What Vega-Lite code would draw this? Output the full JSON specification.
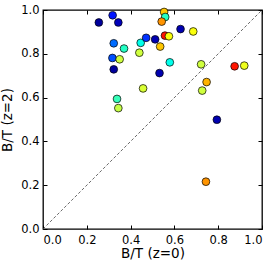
{
  "$schema": "https://vega.github.io/schema/vega-lite/v6.json",
  "width": 219,
  "height": 219,
  "autosize": "none",
  "padding": {"left": 43, "top": 10, "right": 11, "bottom": 44},
  "background": "white",
  "config": {
    "view": {"stroke": "black", "strokeWidth": 1.3},
    "axis": {
      "labelFont": "DejaVu Sans",
      "titleFont": "DejaVu Sans",
      "labelFontSize": 11.5,
      "titleFontSize": 13.5,
      "titleFontWeight": "normal",
      "labelColor": "black",
      "titleColor": "black",
      "tickColor": "black",
      "domain": false,
      "grid": false,
      "tickSize": -4,
      "tickWidth": 1
    }
  },
  "datasets": {
    "pts": [
      {"bt0": 0.255, "bt2": 0.943, "c": 0.03},
      {"bt0": 0.318, "bt2": 0.976, "c": 0.13},
      {"bt0": 0.344, "bt2": 0.943, "c": 0.06},
      {"bt0": 0.323, "bt2": 0.848, "c": 0.22},
      {"bt0": 0.370, "bt2": 0.824, "c": 0.44},
      {"bt0": 0.317, "bt2": 0.781, "c": 0.18},
      {"bt0": 0.350, "bt2": 0.775, "c": 0.58},
      {"bt0": 0.323, "bt2": 0.729, "c": 0.03},
      {"bt0": 0.446, "bt2": 0.850, "c": 0.40},
      {"bt0": 0.471, "bt2": 0.873, "c": 0.15},
      {"bt0": 0.512, "bt2": 0.866, "c": 0.05},
      {"bt0": 0.440, "bt2": 0.805, "c": 0.58},
      {"bt0": 0.457, "bt2": 0.642, "c": 0.59},
      {"bt0": 0.338, "bt2": 0.594, "c": 0.45},
      {"bt0": 0.344, "bt2": 0.552, "c": 0.57},
      {"bt0": 0.553, "bt2": 0.991, "c": 0.68},
      {"bt0": 0.558, "bt2": 0.968, "c": 0.44},
      {"bt0": 0.542, "bt2": 0.947, "c": 0.73},
      {"bt0": 0.557, "bt2": 0.883, "c": 0.87},
      {"bt0": 0.575, "bt2": 0.880, "c": 0.62},
      {"bt0": 0.628, "bt2": 0.913, "c": 0.05},
      {"bt0": 0.686, "bt2": 0.902, "c": 0.62},
      {"bt0": 0.535, "bt2": 0.833, "c": 0.68},
      {"bt0": 0.579, "bt2": 0.761, "c": 0.40},
      {"bt0": 0.532, "bt2": 0.712, "c": 0.05},
      {"bt0": 0.722, "bt2": 0.752, "c": 0.58},
      {"bt0": 0.875, "bt2": 0.743, "c": 0.87},
      {"bt0": 0.919, "bt2": 0.746, "c": 0.61},
      {"bt0": 0.747, "bt2": 0.671, "c": 0.70},
      {"bt0": 0.727, "bt2": 0.632, "c": 0.58},
      {"bt0": 0.794, "bt2": 0.499, "c": 0.05},
      {"bt0": 0.744, "bt2": 0.216, "c": 0.73}
    ],
    "diag": [
      {"bt0": 0, "bt2": 0},
      {"bt0": 1, "bt2": 1}
    ]
  },
  "layer": [
    {
      "data": {"name": "diag"},
      "mark": {"type": "line", "color": "#444444", "strokeWidth": 0.8, "strokeDash": [3, 2]},
      "encoding": {
        "x": {"field": "bt0", "type": "quantitative", "scale": {"domain": [0, 1], "nice": false},
              "axis": {"orient": "top", "labels": false, "title": null, "values": [0, 0.2, 0.4, 0.6, 0.8, 1.0]}},
        "y": {"field": "bt2", "type": "quantitative", "scale": {"domain": [0, 1], "nice": false},
              "axis": {"orient": "right", "labels": false, "title": null, "values": [0, 0.2, 0.4, 0.6, 0.8, 1.0]}}
      }
    },
    {
      "data": {"name": "pts"},
      "mark": {"type": "circle", "size": 60, "stroke": "black", "strokeWidth": 0.7, "opacity": 1},
      "encoding": {
        "x": {"field": "bt0", "type": "quantitative", "scale": {"domain": [0, 1], "nice": false},
              "axis": {"orient": "bottom", "title": "B/T (z=0)", "format": ".1f", "values": [0, 0.2, 0.4, 0.6, 0.8, 1.0], "labelPadding": 9, "titleX": 109.5, "titleY": 17.5}},
        "y": {"field": "bt2", "type": "quantitative", "scale": {"domain": [0, 1], "nice": false},
              "axis": {"orient": "left", "title": "B/T (z=2)", "format": ".1f", "values": [0, 0.2, 0.4, 0.6, 0.8, 1.0], "labelPadding": 8, "titleX": -29, "titleY": 109.5}},
        "color": {"field": "c", "type": "quantitative", "legend": null,
                  "scale": {"domain": [0, 0.125, 0.25, 0.375, 0.5, 0.625, 0.75, 0.875, 1],
                            "range": ["#00007f", "#0000ff", "#007fff", "#00ffff", "#7fff7f", "#ffff00", "#ff7f00", "#ff0000", "#7f0000"]}}
      }
    }
  ],
  "resolve": {"axis": {"x": "independent", "y": "independent"}}
}
